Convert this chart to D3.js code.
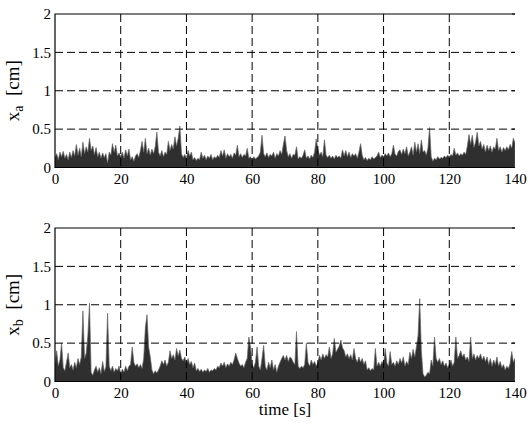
<!DOCTYPE html>
<html>
<head>
<meta charset="utf-8">
<script src="https://cdn.jsdelivr.net/npm/d3@7"></script>
<style>
  body { margin: 0; background: #fff; }
  svg text { font-family: "Liberation Serif", "DejaVu Serif", serif; fill: #000; }
</style>
</head>
<body>
<div id="chart"></div>
<script>
// pas d'échantillonnage des deux signaux (s)
const timeStep = 0.5;

const xTicks = [0, 20, 40, 60, 80, 100, 120, 140];
const xTickLabels = ['0', '20', '40', '60', '80', '100', '120', '140'];
const yTicks = [0, 0.5, 1, 1.5, 2];
const yTickLabels = ['0', '0.5', '1', '1.5', '2'];

// x_a [cm], un point toutes les 0.5 s, de 0 à 140 s
const xaValues = [
  0.12, 0.18, 0.10, 0.20, 0.14, 0.21, 0.12, 0.17, 0.10, 0.20, 0.13, 0.22, 0.15, 0.30, 0.16, 0.25, 0.14, 0.33, 0.18, 0.27,
  0.20, 0.38, 0.22, 0.28, 0.17, 0.26, 0.14, 0.20, 0.12, 0.19, 0.13, 0.18, 0.06, 0.20, 0.16, 0.31, 0.20, 0.29, 0.15, 0.19,
  0.14, 0.20, 0.12, 0.23, 0.15, 0.24, 0.10, 0.14, 0.08, 0.15, 0.18, 0.13, 0.22, 0.34, 0.20, 0.38, 0.18, 0.25, 0.16, 0.24,
  0.18, 0.27, 0.46, 0.20, 0.15, 0.22, 0.14, 0.20, 0.17, 0.34, 0.22, 0.30, 0.24, 0.40, 0.28, 0.38, 0.54, 0.18, 0.13, 0.17,
  0.12, 0.22, 0.15, 0.20, 0.10, 0.13, 0.09, 0.12, 0.10, 0.20, 0.12, 0.16, 0.10, 0.15, 0.12, 0.17, 0.10, 0.14, 0.12, 0.16,
  0.13, 0.22, 0.15, 0.23, 0.12, 0.18, 0.14, 0.17, 0.12, 0.19, 0.16, 0.29, 0.14, 0.18, 0.13, 0.17, 0.15, 0.25, 0.12, 0.14,
  0.10, 0.14, 0.11, 0.13, 0.15, 0.20, 0.42, 0.18, 0.14, 0.19, 0.13, 0.17, 0.15, 0.20, 0.12, 0.18, 0.15, 0.22, 0.17, 0.30,
  0.41, 0.22, 0.14, 0.18, 0.12, 0.17, 0.16, 0.27, 0.11, 0.14, 0.12, 0.16, 0.23, 0.12, 0.15, 0.11, 0.16, 0.13, 0.20, 0.37,
  0.24, 0.16, 0.20, 0.14, 0.36, 0.16, 0.13, 0.16, 0.12, 0.15, 0.11, 0.16, 0.13, 0.15, 0.12, 0.23, 0.15, 0.22, 0.14, 0.20,
  0.13, 0.18, 0.15, 0.18, 0.12, 0.20, 0.31, 0.16, 0.10, 0.13, 0.09, 0.12, 0.10, 0.14, 0.11, 0.13, 0.15, 0.20, 0.13, 0.16,
  0.14, 0.18, 0.15, 0.19, 0.14, 0.18, 0.29, 0.17, 0.15, 0.21, 0.23, 0.17, 0.24, 0.18, 0.27, 0.15, 0.20, 0.27, 0.16, 0.33,
  0.20, 0.31, 0.18, 0.36, 0.20, 0.22, 0.16, 0.25, 0.52, 0.14, 0.08, 0.12, 0.10, 0.14, 0.11, 0.13, 0.12, 0.15, 0.13, 0.16,
  0.14, 0.17, 0.15, 0.25, 0.16, 0.19, 0.15, 0.18, 0.16, 0.20, 0.17, 0.28, 0.43, 0.30, 0.42, 0.26, 0.33, 0.46, 0.28, 0.34,
  0.24, 0.30, 0.20, 0.29, 0.22, 0.28, 0.20, 0.27, 0.24, 0.38, 0.22, 0.27, 0.20, 0.26, 0.22, 0.27, 0.23, 0.30, 0.25, 0.38,
  0.32
];

// x_b [cm], même échantillonnage
const xbValues = [
  0.22, 0.40, 0.20, 0.28, 0.50, 0.18, 0.14, 0.25, 0.37, 0.18, 0.22, 0.15, 0.25, 0.18, 0.30, 0.22, 0.32, 0.92, 0.30, 0.37,
  0.60, 1.02, 0.12, 0.08, 0.15, 0.20, 0.12, 0.18, 0.10, 0.26, 0.13, 0.19, 0.89, 0.20, 0.14, 0.20, 0.12, 0.17, 0.14, 0.20,
  0.10, 0.16, 0.12, 0.20, 0.14, 0.20, 0.22, 0.45, 0.25, 0.20, 0.23, 0.18, 0.22, 0.17, 0.30, 0.70, 0.87, 0.45, 0.32, 0.15,
  0.10, 0.14, 0.11, 0.15, 0.20, 0.27, 0.22, 0.28, 0.20, 0.25, 0.40, 0.30, 0.35, 0.28, 0.43, 0.33, 0.41, 0.30, 0.27, 0.32,
  0.23, 0.30, 0.22, 0.26, 0.18, 0.24, 0.14, 0.17, 0.13, 0.16, 0.12, 0.15, 0.13, 0.17, 0.12, 0.15, 0.14, 0.17, 0.15, 0.20,
  0.18, 0.24, 0.20, 0.25, 0.18, 0.23, 0.20, 0.25, 0.22, 0.28, 0.37, 0.30, 0.24, 0.20, 0.22, 0.18, 0.25, 0.30, 0.58, 0.45,
  0.22, 0.18, 0.25, 0.45, 0.20, 0.15, 0.30, 0.47, 0.20, 0.15, 0.25, 0.18, 0.28, 0.15, 0.22, 0.12, 0.20, 0.25, 0.30, 0.34,
  0.28, 0.34, 0.26, 0.32, 0.30, 0.25, 0.22, 0.65, 0.20, 0.17, 0.20, 0.18, 0.22, 0.50, 0.25, 0.20, 0.28, 0.22, 0.26, 0.20,
  0.25, 0.34, 0.28, 0.36, 0.30, 0.35, 0.32, 0.45, 0.30, 0.36, 0.56, 0.38, 0.42, 0.46, 0.54, 0.44, 0.40, 0.32, 0.36, 0.30,
  0.35, 0.28, 0.43, 0.30, 0.25, 0.32, 0.25, 0.30, 0.22, 0.27, 0.15, 0.18, 0.14, 0.17, 0.15, 0.43, 0.20, 0.25, 0.20, 0.26,
  0.22, 0.43, 0.24, 0.20, 0.39, 0.22, 0.25, 0.20, 0.27, 0.22, 0.30, 0.24, 0.32, 0.20, 0.26, 0.22, 0.38, 0.30, 0.42, 0.32,
  0.45, 0.60, 1.08, 0.40, 0.10, 0.06, 0.08, 0.12, 0.10, 0.28, 0.20, 0.58, 0.30, 0.25, 0.30, 0.22, 0.27, 0.20, 0.24, 0.18,
  0.22, 0.28, 0.20, 0.25, 0.58, 0.30, 0.34, 0.40, 0.32, 0.36, 0.28, 0.32, 0.26, 0.58, 0.30, 0.36, 0.28, 0.34, 0.30, 0.36,
  0.28, 0.33, 0.26, 0.32, 0.22, 0.30, 0.20, 0.28, 0.22, 0.32, 0.20, 0.26, 0.18, 0.22, 0.15, 0.20, 0.17, 0.23, 0.39, 0.25,
  0.30
];

const width = 531, height = 428;
const margin = { left: 55, right: 16 };
const plotW = width - margin.left - margin.right;
const plotH = 153.5;
const fontFamily = '"Liberation Serif", "DejaVu Serif", serif';
const panels = [
  { top: 14, values: xaValues, sub: 'a', showTitle: false },
  { top: 228, values: xbValues, sub: 'b', showTitle: true }
];

const svg = d3.select('#chart').append('svg')
  .attr('width', width)
  .attr('height', height);

const x = d3.scaleLinear().domain([0, 140]).range([0, plotW]);

panels.forEach((p, k) => {
  const y = d3.scaleLinear().domain([0, 2]).range([plotH, 0]);
  const g = svg.append('g').attr('transform', `translate(${margin.left},${p.top})`);

  g.append('clipPath').attr('id', 'clip' + k)
    .append('rect').attr('width', plotW).attr('height', plotH);

  // le signal
  const area = d3.area()
    .x((d, i) => x(i * timeStep))
    .y0(y(0))
    .y1(d => y(d));

  g.append('path')
    .datum(p.values)
    .attr('clip-path', `url(#clip${k})`)
    .attr('fill', '#2f2f2f')
    .attr('stroke', '#666')
    .attr('stroke-width', 0.7)
    .attr('d', area);

  // grille pointillée
  g.append('g')
    .selectAll('line')
    .data(yTicks.filter(d => d > 0 && d < 2))
    .enter().append('line')
    .attr('x1', 0).attr('x2', plotW)
    .attr('y1', d => y(d)).attr('y2', d => y(d))
    .attr('stroke', '#000').attr('stroke-width', 1)
    .attr('stroke-dasharray', '8,4');

  g.append('g')
    .selectAll('line')
    .data(xTicks.filter(d => d > 0 && d < 140))
    .enter().append('line')
    .attr('x1', d => x(d)).attr('x2', d => x(d))
    .attr('y1', 0).attr('y2', plotH)
    .attr('stroke', '#000').attr('stroke-width', 1)
    .attr('stroke-dasharray', '8,4');

  // cadre : haut, gauche, bas (le bord droit n'a que les graduations)
  g.append('path')
    .attr('fill', 'none').attr('stroke', '#000').attr('stroke-width', 1.2)
    .attr('d', `M${plotW},0H0V${plotH}H${plotW}`);

  g.append('g')
    .selectAll('line')
    .data(yTicks)
    .enter().append('line')
    .attr('x1', plotW - 3).attr('x2', plotW)
    .attr('y1', d => y(d)).attr('y2', d => y(d))
    .attr('stroke', '#000').attr('stroke-width', 1);

  // axes
  const yAxis = g.append('g')
    .call(d3.axisLeft(y).tickValues(yTicks)
      .tickFormat((d, i) => yTickLabels[i])
      .tickSize(0).tickPadding(4));
  yAxis.attr('font-family', fontFamily);
  yAxis.select('.domain').remove();
  yAxis.selectAll('text').attr('font-size', 15).attr('font-family', fontFamily);

  const xAxis = g.append('g')
    .attr('transform', `translate(0,${plotH})`)
    .call(d3.axisBottom(x).tickValues(xTicks)
      .tickFormat((d, i) => xTickLabels[i])
      .tickSize(0).tickPadding(6));
  xAxis.attr('font-family', fontFamily);
  xAxis.select('.domain').remove();
  xAxis.selectAll('text').attr('font-size', 15).attr('font-family', fontFamily);

  // titre de l'axe y : x_a [cm] / x_b [cm]
  const yLabel = g.append('text')
    .attr('transform', `translate(-36,${plotH / 2}) rotate(-90)`)
    .attr('text-anchor', 'middle')
    .attr('font-size', 19);
  yLabel.append('tspan').text('x');
  yLabel.append('tspan').attr('font-size', 14).attr('dy', 4).text(p.sub);
  yLabel.append('tspan').attr('dy', -4).text('\u00a0\u00a0[cm]');

  if (p.showTitle) {
    g.append('text')
      .attr('x', plotW / 2)
      .attr('y', plotH + 33)
      .attr('text-anchor', 'middle')
      .attr('font-size', 17)
      .text('time [s]');
  }
});
</script>
</body>
</html>
